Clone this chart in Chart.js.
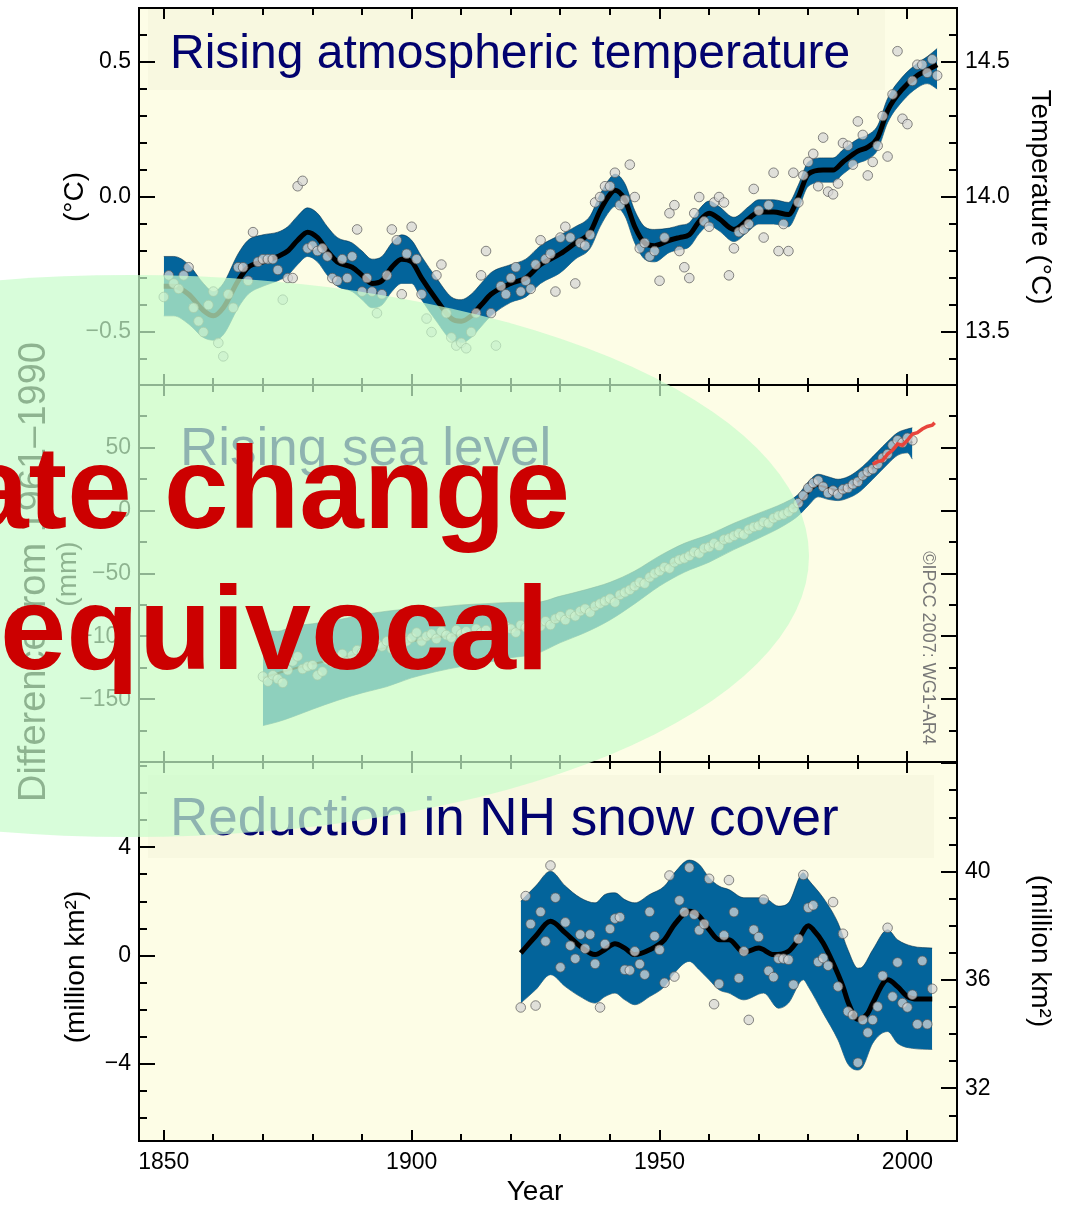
<!DOCTYPE html>
<html>
<head>
<meta charset="utf-8">
<script src="https://cdn.jsdelivr.net/npm/chart.js@4.4.1/dist/chart.umd.min.js"></script>
<style>
  html, body { margin: 0; padding: 0; background: #fff; }
  #wrap { position: relative; width: 1070px; height: 1211px; overflow: hidden; }
  canvas { position: absolute; left: 0; }
</style>
</head>
<body>
<div id="wrap">
  <canvas id="painelTemp" width="1070" height="400" style="top:0px"></canvas>
  <canvas id="painelMar" width="1070" height="410" style="top:370px"></canvas>
  <canvas id="painelNeve" width="1070" height="464" style="top:747px"></canvas>
  <canvas id="sobreposicao" width="1070" height="1211" style="top:0px"></canvas>
</div>
<script>
// ---- dados ----
const yearTicks = [1850, 1900, 1950, 2000];

// temperatura global (anomalia, °C), um valor por ano a partir de 1850
const tempFirstYear = 1850;
const tempAnnual = [
  -0.37, -0.29, -0.32, -0.34, -0.29, -0.26, -0.41, -0.46, -0.50, -0.40,
  -0.35, -0.54, -0.59, -0.36, -0.41, -0.26, -0.26, -0.31, -0.13, -0.24,
  -0.23, -0.23, -0.23, -0.27, -0.38, -0.30, -0.30, 0.04, 0.06, -0.19,
  -0.18, -0.20, -0.19, -0.22, -0.30, -0.31, -0.23, -0.30, -0.22, -0.12,
  -0.35, -0.30, -0.35, -0.43, -0.36, -0.29, -0.12, -0.16, -0.36, -0.21,
  -0.11, -0.23, -0.36, -0.45, -0.50, -0.29, -0.25, -0.43, -0.52, -0.55,
  -0.54, -0.56, -0.50, -0.43, -0.29, -0.20, -0.43, -0.55, -0.33, -0.36,
  -0.30, -0.26, -0.35, -0.31, -0.34, -0.25, -0.16, -0.23, -0.21, -0.35,
  -0.15, -0.11, -0.15, -0.32, -0.17, -0.18, -0.14, -0.02, 0.00, 0.04,
  0.04, 0.09, -0.03, -0.01, 0.12, 0.00, -0.19, -0.17, -0.22, -0.20,
  -0.31, -0.15, -0.06, -0.03, -0.20, -0.26, -0.30, -0.06, 0.00, -0.09,
  -0.11, -0.02, 0.00, -0.02, -0.29, -0.19, -0.13, -0.12, -0.10, 0.03,
  -0.05, -0.15, -0.03, 0.09, -0.20, -0.10, -0.20, 0.09, -0.02, 0.08,
  0.13, 0.16, 0.04, 0.22, 0.02, 0.01, 0.05, 0.20, 0.19, 0.12,
  0.28, 0.23, 0.08, 0.13, 0.19, 0.30, 0.15, 0.38, 0.54, 0.29,
  0.27, 0.43, 0.49, 0.49, 0.46, 0.51, 0.45
];
const tempCurveYears = [1850, 1852, 1855, 1858, 1860, 1862, 1865, 1867, 1870, 1873, 1875, 1877, 1879, 1881, 1883, 1885, 1888, 1890, 1892, 1894, 1896, 1898, 1900, 1902, 1905, 1908, 1910, 1912, 1914, 1916, 1920, 1923, 1926, 1930, 1933, 1936, 1938, 1940, 1941, 1943, 1945, 1947, 1949, 1952, 1954, 1956, 1958, 1960, 1962, 1965, 1968, 1970, 1973, 1976, 1978, 1980, 1983, 1985, 1987, 1990, 1992, 1994, 1996, 1999, 2002, 2004, 2006];
const tempCurve = [-0.33, -0.33, -0.36, -0.42, -0.44, -0.41, -0.31, -0.26, -0.24, -0.22, -0.20, -0.16, -0.13, -0.15, -0.20, -0.24, -0.26, -0.29, -0.32, -0.31, -0.26, -0.23, -0.24, -0.30, -0.38, -0.45, -0.46, -0.44, -0.40, -0.36, -0.32, -0.30, -0.25, -0.21, -0.17, -0.13, -0.05, 0.01, 0.025, -0.01, -0.11, -0.17, -0.18, -0.16, -0.15, -0.14, -0.09, -0.06, -0.08, -0.12, -0.08, -0.055, -0.055, -0.065, 0.0, 0.085, 0.10, 0.10, 0.13, 0.17, 0.185, 0.22, 0.32, 0.40, 0.45, 0.47, 0.49];
const tempBandHi = [-0.22, -0.22, -0.25, -0.32, -0.35, -0.32, -0.21, -0.16, -0.14, -0.13, -0.11, -0.07, -0.04, -0.06, -0.11, -0.15, -0.17, -0.20, -0.23, -0.22, -0.17, -0.14, -0.16, -0.22, -0.30, -0.37, -0.38, -0.36, -0.32, -0.28, -0.25, -0.23, -0.18, -0.14, -0.11, -0.07, 0.01, 0.07, 0.085, 0.05, -0.05, -0.11, -0.12, -0.115, -0.105, -0.095, -0.045, -0.015, -0.035, -0.075, -0.035, -0.01, -0.01, -0.02, 0.045, 0.13, 0.145, 0.145, 0.175, 0.215, 0.23, 0.265, 0.365, 0.445, 0.495, 0.52, 0.55];
const tempBandLo = [-0.44, -0.44, -0.47, -0.52, -0.53, -0.51, -0.41, -0.36, -0.33, -0.31, -0.29, -0.25, -0.22, -0.24, -0.29, -0.33, -0.35, -0.38, -0.41, -0.40, -0.35, -0.32, -0.32, -0.38, -0.46, -0.53, -0.54, -0.52, -0.48, -0.44, -0.39, -0.37, -0.32, -0.28, -0.23, -0.19, -0.11, -0.05, -0.035, -0.07, -0.17, -0.23, -0.24, -0.205, -0.195, -0.185, -0.135, -0.105, -0.125, -0.165, -0.125, -0.10, -0.10, -0.11, -0.045, 0.04, 0.055, 0.055, 0.085, 0.125, 0.14, 0.175, 0.275, 0.355, 0.405, 0.42, 0.40];
const tempTicksLeft = [-0.5, 0, 0.5];
const tempTicksRight = [13.5, 14.0, 14.5];

// nível do mar (mm), um valor por ano a partir de 1870
const seaFirstYear = 1870;
const seaAnnual = [
  -132, -136, -131, -134, -137, -127, -120, -116, -126, -124,
  -123, -131, -128, -119, -121, -117, -114, -120, -115, -111,
  -113, -109, -112, -106, -108, -104, -110, -103, -99, -104,
  -101, -97, -104, -100, -98, -102, -96, -99, -101, -95,
  -98, -96, -100, -94, -97, -95, -99, -93, -96, -92,
  -94, -97, -91, -93, -95, -90, -92, -88, -91, -86,
  -84, -87, -82, -84, -80, -78, -81, -76, -74, -72,
  -70, -73, -67, -65, -63, -60, -57, -58, -53, -50,
  -48, -45, -46, -41, -39, -38, -36, -33, -34, -30,
  -29, -26, -28, -23, -22, -20, -18, -19, -15, -13,
  -12, -9, -10, -6, -4, -3, -1, 2, 6, 12,
  18, 22, 24, 19, 14, 16, 13, 17, 18, 21,
  23, 28, 31, 33, 37, 42, 45, 52, 56, 54,
  58, 56
];
const seaCurveYears = [1870, 1875, 1880, 1885, 1890, 1895, 1900, 1905, 1910, 1915, 1920, 1925, 1930, 1935, 1940, 1945, 1950, 1955, 1960, 1965, 1970, 1975, 1978, 1980, 1982, 1984, 1986, 1988, 1990, 1992, 1994, 1996, 1998, 2000, 2001];
const seaCurve = [-133, -127, -122, -118, -113, -109, -104, -101, -99, -97, -95, -93, -86, -80, -72, -61, -48, -37, -30, -20, -12, -3, 5, 14, 20, 18, 16, 18, 23, 30, 38, 46, 53, 56, 54];
const seaBandYears = [1870, 1873, 1876, 1880, 1885, 1890, 1895, 1900, 1905, 1910, 1915, 1920, 1925, 1930, 1935, 1940, 1945, 1950, 1955, 1960, 1965, 1970, 1975, 1978, 1980, 1982, 1984, 1986, 1988, 1990, 1992, 1994, 1996, 1998, 2000, 2001];
const seaBandHi = [-95, -96, -92, -90, -87, -83, -80, -78, -77, -75, -74, -73, -73, -68, -63, -57, -48, -36, -26, -19, -10, -2, 6, 13, 23, 29, 27, 25, 27, 32, 39, 47, 55, 62, 65, 66];
const seaBandLo = [-171, -168, -164, -158, -151, -145, -140, -133, -128, -124, -121, -117, -114, -105, -97, -87, -74, -60, -49, -41, -31, -22, -12, -4, 4, 11, 9, 8, 10, 14, 21, 29, 37, 44, 46, 41];
const satYears = [1993, 1994, 1995, 1996, 1997, 1998, 1999, 2000, 2001, 2002, 2003, 2004, 2005, 2005.5];
const satValues = [37, 39, 40, 45, 48, 53, 52, 56, 61, 62, 65, 67, 68, 70];
const seaTicks = [-150, -100, -50, 0, 50];

// cobertura de neve HN (milhões de km²), um valor por ano a partir de 1922
const snowFirstYear = 1922;
const snowAnnual = [
  -1.91, 2.20, 1.17, -1.84, 1.62, 0.53, 3.33, 2.14, -0.43, 1.23,
  0.37, -0.11, 0.78, 0.26, 0.78, -0.30, -1.91, 0.43, 0.99, 1.37,
  1.42, -0.52, -0.54, 0.16, -0.31, -0.70, 1.62, 0.72, 0.22, -1.00,
  2.96, -0.77, 2.04, 1.61, 3.25, 1.52, 0.94, 1.17, 2.84, -1.79,
  -1.04, 0.75, 2.79, 1.61, -0.83, 0.16, -2.37, 0.96, 0.69, 2.07,
  -0.56, -0.79, -0.11, -0.11, -0.15, -1.07, 0.62, 2.98, 1.77, 1.86,
  -0.23, -0.09, -0.37, 1.98, -1.14, 0.81, -2.06, -2.19, -3.95, -2.37,
  -2.84, -2.37, -1.88, -0.74, 1.03, -1.51, -0.25, -1.75, -1.91, -1.44,
  -2.53, -0.19, -2.53, -1.22
];
const snowCurveYears = [1922, 1925, 1928, 1931, 1934, 1937, 1939, 1941, 1943, 1945, 1948, 1951, 1953, 1956, 1958, 1960, 1962, 1964, 1967, 1970, 1973, 1976, 1978, 1980, 1981, 1983, 1985, 1987, 1988, 1990, 1992, 1993, 1996, 1998, 2000, 2002, 2005];
const snowCurve = [0.10, 0.72, 1.27, 0.84, 0.35, 0.04, 0.23, 0.44, 0.28, 0.04, 0.22, 0.59, 1.15, 1.64, 1.46, 0.96, 0.59, 0.59, 0.12, 0.28, 0.04, 0.16, 0.59, 1.11, 0.96, 0.47, -0.27, -1.14, -1.70, -2.35, -2.12, -1.75, -0.89, -1.14, -1.51, -1.60, -1.60];
const snowBandYears = [1922, 1925, 1928, 1931, 1934, 1937, 1939, 1941, 1943, 1945, 1948, 1951, 1953, 1956, 1958, 1960, 1962, 1964, 1967, 1971, 1974, 1976, 1979, 1980, 1983, 1986, 1988, 1990, 1991, 1993, 1996, 1998, 2001, 2005];
const snowBandHi = [2.01, 2.57, 3.12, 2.57, 2.14, 1.95, 2.26, 2.32, 2.07, 1.95, 2.26, 2.57, 3.06, 3.53, 3.37, 2.88, 2.57, 2.44, 2.14, 2.14, 1.83, 1.95, 3.06, 2.81, 2.14, 1.21, 0.22, -0.46, -0.40, 0.22, 0.96, 0.59, 0.35, 0.28];
const snowBandLo = [-1.75, -1.26, -0.70, -1.14, -1.51, -1.75, -1.51, -1.38, -1.63, -1.81, -1.51, -1.14, -0.64, -0.21, -0.52, -0.89, -1.26, -1.38, -1.63, -1.38, -1.94, -1.75, -0.89, -1.14, -2.12, -3.11, -4.00, -4.22, -4.10, -3.23, -2.80, -3.23, -3.42, -3.46];
const snowTicksLeft = [-4, 0, 4];
const snowTicksRight = [32, 36, 40];

// ---- aparência ----
Chart.defaults.font.family = '"Liberation Sans", Arial, sans-serif';
Chart.defaults.color = '#000';
const FUNDO = '#fdfde6';
const CAIXA = '#f8f8e0';
const FAIXA = '#03649b';
const AZUL_TITULO = '#02026e';
const FONTE = '"Liberation Sans", Arial, sans-serif';

function pares(anos, valores) {
  return valores.map((v, i) => ({ x: anos[i], y: v }));
}
function anuais(primeiro, valores) {
  return valores.map((v, i) => ({ x: primeiro + i, y: v }));
}
function menos(txt) {
  return String(txt).replace('-', '\u2212');
}

// decoração de cada painel (coordenadas absolutas na página)
const decor = {
  painelTemp: {
    top: 0, title: 'Rising atmospheric temperature', titleSize: 48, titleX: 170, titleY: 68,
    box: [148, 9, 885, 90],
    left: [0.1, 0.5], right: [0.1, 0.5],
    axisTitles: [['(°C)', 75, 197, -1, 28, '#000'], ['Temperature (°C)', 1040, 197, 1, 28, '#000']]
  },
  painelMar: {
    top: 370, title: 'Rising sea level', titleSize: 53, titleX: 180, titleY: 465,
    box: null,
    left: [25, 50], right: [25, 50],
    axisTitles: [['(mm)', 68, 574, -1, 28, '#000'], ['\u00A9IPCC 2007: WG1-AR4', 928, 648, 1, 18, '#777']]
  },
  painelNeve: {
    top: 747, title: 'Reduction in NH snow cover', titleSize: 53, titleX: 170, titleY: 835,
    box: [148, 775, 934, 858],
    left: [1, 4], right: [1, 4],
    axisTitles: [['(million km\u00B2)', 76, 967, -1, 28, '#000'], ['(million km\u00B2)', 1040, 951, 1, 28, '#000'], ['Year', 535, 1192, 0, 28, '#000']]
  }
};

function marcas(ctx, scale, minor, major, lens, seg) {
  const first = Math.ceil(scale.min / minor - 1e-6);
  const last = Math.floor(scale.max / minor + 1e-6);
  for (let k = first; k <= last; k++) {
    const v = k * minor;
    const r = v / major;
    const maior = Math.abs(r - Math.round(r)) < 1e-6;
    const p = Math.round(scale.getPixelForValue(v));
    const s = seg(p, maior ? lens[1] : lens[0]);
    ctx.beginPath();
    ctx.moveTo(s[0], s[1]);
    ctx.lineTo(s[2], s[3]);
    ctx.stroke();
  }
}

const moldura = {
  id: 'moldura',
  beforeDatasetsDraw(chart) {
    const d = decor[chart.canvas.id];
    const { ctx, chartArea: a } = chart;
    ctx.save();
    ctx.fillStyle = FUNDO;
    ctx.fillRect(a.left, a.top, a.right - a.left, a.bottom - a.top);
    if (d.box) {
      ctx.fillStyle = CAIXA;
      ctx.fillRect(d.box[0], d.box[1] - d.top, d.box[2] - d.box[0], d.box[3] - d.box[1]);
    }
    ctx.fillStyle = AZUL_TITULO;
    ctx.font = d.titleSize + 'px ' + FONTE;
    ctx.textAlign = 'left';
    ctx.textBaseline = 'alphabetic';
    ctx.fillText(d.title, d.titleX, d.titleY - d.top);
    ctx.restore();
  },
  afterDraw(chart) {
    const d = decor[chart.canvas.id];
    const { ctx, chartArea: a } = chart;
    const sx = chart.scales.x, sy = chart.scales.y, sy2 = chart.scales.y2;
    ctx.save();
    ctx.strokeStyle = '#000';
    ctx.lineWidth = 2;
    marcas(ctx, sy, d.left[0], d.left[1], [8, 16], (p, l) => [a.left, p, a.left + l, p]);
    marcas(ctx, sy2, d.right[0], d.right[1], [8, 16], (p, l) => [a.right, p, a.right - l, p]);
    marcas(ctx, sx, 10, 50, [7, 11], (p, l) => [p, a.top, p, a.top + l]);
    marcas(ctx, sx, 10, 50, [7, 11], (p, l) => [p, a.bottom, p, a.bottom - l]);
    ctx.strokeRect(a.left, a.top, a.right - a.left, a.bottom - a.top);
    d.axisTitles.forEach(([txt, x, y, rot, size, cor]) => {
      ctx.save();
      ctx.translate(x, y - d.top);
      ctx.rotate(rot * Math.PI / 2);
      ctx.font = size + 'px ' + FONTE;
      ctx.fillStyle = cor;
      ctx.textAlign = 'center';
      ctx.textBaseline = 'middle';
      ctx.fillText(txt, 0, 0);
      ctx.restore();
    });
    ctx.restore();
  }
};

function semFolga(s) {
  s.paddingTop = 0;
  s.paddingBottom = 0;
  s.paddingLeft = 0;
  s.paddingRight = 0;
}

function eixoY(pos, min, max, ticks, fmt, largura) {
  return {
    type: 'linear', position: pos, min: min, max: max,
    grid: { display: false, drawTicks: false },
    border: { display: false },
    afterBuildTicks: s => { s.ticks = ticks.map(v => ({ value: v })); },
    afterFit: s => { s.width = largura; semFolga(s); },
    ticks: { display: ticks.length > 0, padding: 8, font: { size: 23 }, color: '#000', callback: v => fmt(v) }
  };
}

function eixoX(mostrar) {
  return {
    type: 'linear', min: 1845, max: 2010, display: mostrar,
    grid: { display: false, drawTicks: false },
    border: { display: false },
    afterBuildTicks: s => { s.ticks = yearTicks.map(v => ({ value: v })); },
    afterFit: s => { if (mostrar) s.height = 70; semFolga(s); },
    ticks: { padding: 8, font: { size: 23 }, color: '#000', callback: v => String(v) }
  };
}

function faixa(anos, alto, baixo) {
  return [
    { data: pares(anos, alto), fill: '+1', backgroundColor: FAIXA, borderColor: 'rgba(0,40,70,0.55)', borderWidth: 1, pointRadius: 0, cubicInterpolationMode: 'monotone', order: 3 },
    { data: pares(anos, baixo), fill: false, borderColor: 'rgba(0,40,70,0.55)', borderWidth: 1, pointRadius: 0, cubicInterpolationMode: 'monotone', order: 3 }
  ];
}

function curva(anos, valores, largura) {
  return { data: pares(anos, valores), fill: false, borderColor: '#000', borderWidth: largura, pointRadius: 0, cubicInterpolationMode: 'monotone', order: 1 };
}

function pontos(dados) {
  return {
    data: dados, showLine: false, pointRadius: 4.8, pointBorderWidth: 1,
    pointBackgroundColor: 'rgba(214,214,214,0.75)', pointBorderColor: 'rgba(85,85,85,0.7)', order: 0
  };
}

function criarPainel(id, datasets, scales, padding) {
  new Chart(document.getElementById(id), {
    type: 'line',
    data: { datasets: datasets },
    options: {
      responsive: false,
      maintainAspectRatio: false,
      animation: false,
      devicePixelRatio: 1,
      events: [],
      layout: { padding: padding, autoPadding: false },
      plugins: { legend: { display: false }, tooltip: { enabled: false }, title: { display: false } },
      scales: scales
    },
    plugins: [moldura]
  });
}

function desenharSobreposicao() {
  const ctx = document.getElementById('sobreposicao').getContext('2d');
  ctx.save();
  ctx.translate(45, 572);
  ctx.rotate(-Math.PI / 2);
  ctx.font = '38px ' + FONTE;
  ctx.fillStyle = '#000';
  ctx.textAlign = 'center';
  ctx.textBaseline = 'alphabetic';
  ctx.fillText('Difference from 1961\u20131990', 0, 0);
  ctx.restore();

  ctx.fillStyle = 'rgba(200,252,203,0.71)';
  ctx.beginPath();
  ctx.ellipse(130, 556, 679, 281, 0, 0, Math.PI * 2);
  ctx.fill();

  ctx.fillStyle = '#cc0000';
  ctx.textAlign = 'right';
  ctx.textBaseline = 'alphabetic';
  ctx.font = 'bold 116px ' + FONTE;
  ctx.fillText('Climate change', 570, 528);
  ctx.font = 'bold 119px ' + FONTE;
  ctx.fillText('is unequivocal', 549, 669);
}

window.onload = function () {
  criarPainel('painelTemp',
    [...faixa(tempCurveYears, tempBandHi, tempBandLo),
     curva(tempCurveYears, tempCurve, 5),
     pontos(anuais(tempFirstYear, tempAnnual))],
    {
      x: eixoX(false),
      y: eixoY('left', -0.696, 0.7, tempTicksLeft, v => menos(v.toFixed(1)), 139),
      y2: eixoY('right', 13.304, 14.7, tempTicksRight, v => v.toFixed(1), 113)
    },
    { top: 8, bottom: 15, left: 0, right: 0 });

  criarPainel('painelMar',
    [...faixa(seaBandYears, seaBandHi, seaBandLo),
     curva(seaCurveYears, seaCurve, 2),
     pontos(anuais(seaFirstYear, seaAnnual)),
     { data: pares(satYears, satValues), fill: false, borderColor: '#e8453c', borderWidth: 3.5, pointRadius: 0, order: -1 }],
    {
      x: eixoX(false),
      y: eixoY('left', -200, 100, seaTicks, v => menos(v), 139),
      y2: eixoY('right', -200, 100, [], v => '', 113)
    },
    { top: 15, bottom: 18, left: 0, right: 0 });

  criarPainel('painelNeve',
    [...faixa(snowBandYears, snowBandHi, snowBandLo),
     curva(snowCurveYears, snowCurve, 5),
     pontos(anuais(snowFirstYear, snowAnnual))],
    {
      x: eixoX(true),
      y: eixoY('left', -6.84, 7.15, snowTicksLeft, v => menos(v), 139),
      y2: eixoY('right', 30.06, 44.05, snowTicksRight, v => String(v), 113)
    },
    { top: 15, bottom: 0, left: 0, right: 0 });

  desenharSobreposicao();
};
</script>
</body>
</html>
